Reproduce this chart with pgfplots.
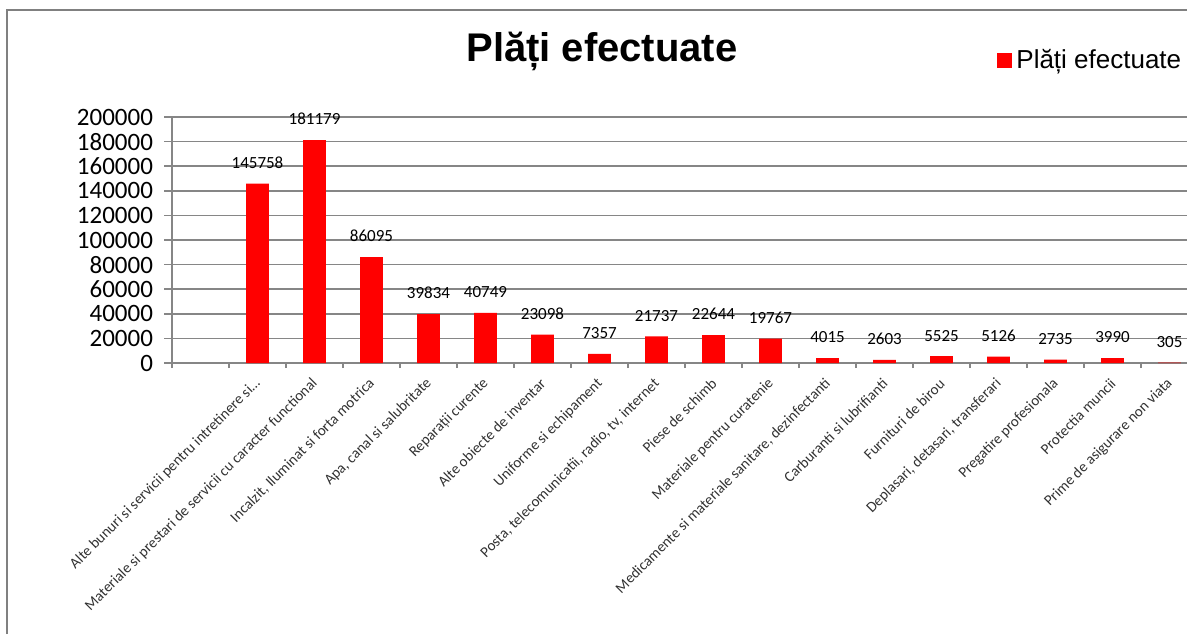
\documentclass[border=0pt]{standalone}
\usepackage{pgfplots}
\pgfplotsset{compat=1.18}
\usepackage{fontspec}
\setmainfont{Carlito}
\newfontfamily\arialfont{Liberation Sans}
\definecolor{gridgray}{RGB}{134,134,134}
\definecolor{framegray}{RGB}{128,128,128}
\definecolor{labgray}{RGB}{50,50,50}
\begin{document}
\begin{tikzpicture}
\path[use as bounding box] (0,0) rectangle (593.5pt,317pt);
\draw[framegray, line width=1pt] (3.5pt,0pt) -- (3.5pt,312pt) -- (593.5pt,312pt);
\begin{axis}[
  at={(86pt,135.5pt)}, anchor=south west,
  width=507.5pt, height=123pt, scale only axis,
  xmin=-0.5, xmax=17.307, ymin=0, ymax=200000,
  axis x line*=bottom, axis y line*=left,
  axis line style={gridgray, line width=0.75pt},
  ytick={0,20000,...,200000},
  ymajorgrids, major grid style={gridgray, line width=0.75pt},
  tick align=outside, major tick length=4pt, minor tick length=2.5pt,
  ytick style={gridgray, line width=0.75pt},
  scaled y ticks=false,
  yticklabel style={font=\fontsize{12.5}{14}\selectfont, text=black, xshift=-2pt,
    /pgf/number format/fixed, /pgf/number format/1000 sep={},
    /pgf/number format/assume math mode=true},
  xtick={1,...,17},
  xticklabels={{Alte bunuri si servicii pentru intretinere si{\ldots}},
    {Materiale si prestari de servicii cu caracter functional},
    {Incalzit, Iluminat si forta motrica},
    {Apa, canal si salubritate},
    {Reparații curente},
    {Alte obiecte de inventar},
    {Uniforme si echipament},
    {Posta, telecomunicatii, radio, tv, internet},
    {Piese de schimb},
    {Materiale pentru curatenie},
    {Medicamente si materiale sanitare, dezinfectanti},
    {Carburanti si lubrifianti},
    {Furnituri de birou},
    {Deplasari, detasari, transferari},
    {Pregatire profesionala},
    {Protectia muncii},
    {Prime de asigurare non viata}},
  major x tick style={draw=none},
  minor xtick={-0.5,0.5,...,16.5},
  minor x tick style={gridgray, line width=0.75pt},
  xticklabel style={font=\fontsize{7.5}{9}\selectfont, text=labgray, anchor=east, inner sep=0pt, xshift=0.4pt, yshift=-5pt, rotate=45},
  title={Plăți efectuate},
  title style={font=\arialfont\bfseries\fontsize{20}{24}\selectfont, at={(axis description cs:0.4236,1.1768)}, anchor=base},
  legend style={at={(axis description cs:0.8128,1.2297)}, anchor=west, draw=none, fill=none, inner sep=0pt,
    font=\arialfont\fontsize{13}{15}\selectfont},
  legend image code/.code={\fill[red] (0pt,-3.75pt) rectangle (7.5pt,3.75pt);},
]
\addplot[ybar, bar width=11.3pt, fill=red, draw=none,
  point meta=explicit symbolic,
  nodes near coords,
  nodes near coords style={font=\fontsize{8.5}{10}\selectfont, text=black, anchor=south, yshift=4pt}]
  table[x=x, y=y, meta=lab] {
x y lab
1 145758 145758
2 181179 181179
3 86095 86095
4 39834 39834
5 40749 40749
6 23098 23098
7 7357 7357
8 21737 21737
9 22644 22644
10 19767 19767
11 4015 4015
12 2603 2603
13 5525 5525
14 5126 5126
15 2735 2735
16 3990 3990
17 305 305
};
\addlegendentry{Plăți efectuate}
\end{axis}
\end{tikzpicture}
\end{document}
